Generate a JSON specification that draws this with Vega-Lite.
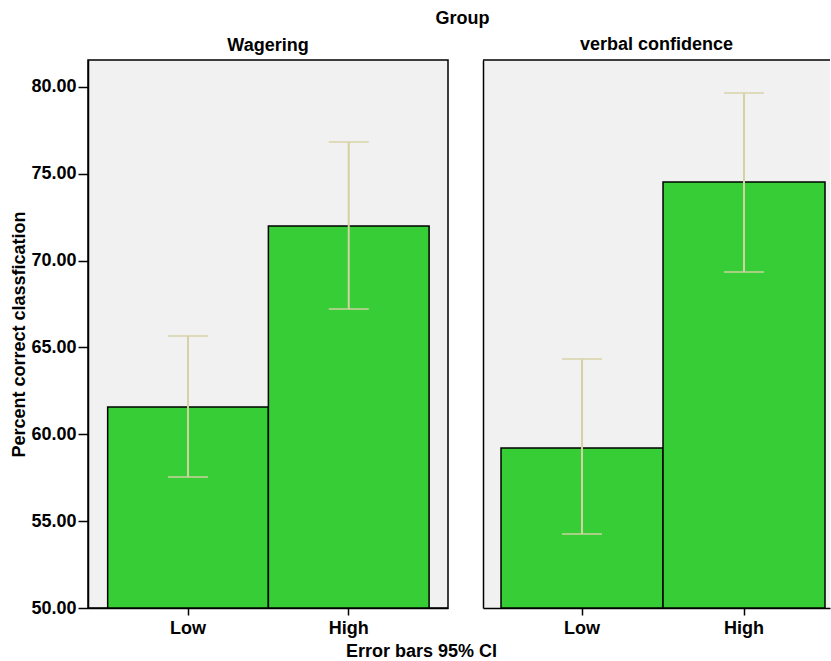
{
  "$schema": "https://vega.github.io/schema/vega-lite/v6.json",
  "padding": {"left": 10, "top": 10, "right": 0, "bottom": 2},
  "bounds": "flush",
  "spacing": 35,
  "title": {"text": "Group", "anchor": "middle", "dx": 42, "offset": 8},
  "data": {"values": [
    {"group": "Wagering", "level": "Low", "mean": 61.57, "lo": 57.54, "hi": 65.66},
    {"group": "Wagering", "level": "High", "mean": 71.99, "lo": 67.21, "hi": 76.83},
    {"group": "verbal confidence", "level": "Low", "mean": 59.21, "lo": 54.26, "hi": 64.33},
    {"group": "verbal confidence", "level": "High", "mean": 74.53, "lo": 69.34, "hi": 79.65}
  ]},
  "hconcat": [
    {
      "width": 360,
      "height": 548,
      "title": {"text": "Wagering"},
      "transform": [{"filter": "datum.group === 'Wagering'"}],
      "encoding": {
        "x": {"field": "level", "type": "nominal", "sort": ["Low", "High"],
          "scale": {"paddingInner": 0, "paddingOuter": 0.12, "align": 0.51},
          "axis": {"title": "Error bars 95% CI", "titleX": 333, "titleY": 34, "titleAlign": "center", "titleBaseline": "top"}}
      },
      "layer": [
        {
          "mark": {"type": "bar", "fill": "#36cd36", "stroke": "black", "strokeWidth": 1.5},
          "encoding": {
            "y": {"field": "mean", "type": "quantitative",
              "scale": {"domain": [50, 81.55], "nice": false, "zero": false},
              "axis": {"title": "Percent correct classfication", "values": [50, 55, 60, 65, 70, 75, 80], "format": ".2f"}},
            "y2": {"datum": 50}
          }
        },
        {
          "mark": {"type": "rule", "color": "#d6d1a4", "strokeWidth": 2},
          "encoding": {"y": {"field": "lo", "type": "quantitative", "title": "Percent correct classfication"}, "y2": {"field": "hi"}}
        },
        {
          "mark": {"type": "tick", "color": "#d6d1a4", "size": 40, "thickness": 2},
          "encoding": {"y": {"field": "lo", "type": "quantitative", "title": "Percent correct classfication"}}
        },
        {
          "mark": {"type": "tick", "color": "#d6d1a4", "size": 40, "thickness": 2},
          "encoding": {"y": {"field": "hi", "type": "quantitative", "title": "Percent correct classfication"}}
        }
      ]
    },
    {
      "width": 347,
      "height": 548,
      "view": {"stroke": null},
      "title": {"text": "verbal confidence"},
      "transform": [{"filter": "datum.group === 'verbal confidence'"}],
      "layer": [
        {
          "mark": {"type": "bar", "fill": "#36cd36", "stroke": "black", "strokeWidth": 1.5},
          "encoding": {
            "x": {"field": "level", "type": "nominal", "sort": ["Low", "High"],
              "scale": {"paddingInner": 0, "paddingOuter": 0.071, "align": 0.783},
              "axis": {"title": null}},
            "y": {"field": "mean", "type": "quantitative",
              "scale": {"domain": [50, 81.55], "nice": false, "zero": false},
              "axis": {"title": null, "labels": false, "ticks": false, "domain": true, "values": [50, 55, 60, 65, 70, 75, 80]}},
            "y2": {"datum": 50}
          }
        },
        {
          "data": {"values": [{"top": 81.55}]},
          "mark": {"type": "rule", "color": "black", "strokeWidth": 1.5},
          "encoding": {"y": {"field": "top", "type": "quantitative", "title": null}}
        },
        {
          "mark": {"type": "rule", "color": "#d6d1a4", "strokeWidth": 2},
          "encoding": {
            "x": {"field": "level", "type": "nominal", "sort": ["Low", "High"], "title": null},
            "y": {"field": "lo", "type": "quantitative", "title": null}, "y2": {"field": "hi"}}
        },
        {
          "mark": {"type": "tick", "color": "#d6d1a4", "size": 40, "thickness": 2},
          "encoding": {
            "x": {"field": "level", "type": "nominal", "sort": ["Low", "High"], "title": null},
            "y": {"field": "lo", "type": "quantitative", "title": null}}
        },
        {
          "mark": {"type": "tick", "color": "#d6d1a4", "size": 40, "thickness": 2},
          "encoding": {
            "x": {"field": "level", "type": "nominal", "sort": ["Low", "High"], "title": null},
            "y": {"field": "hi", "type": "quantitative", "title": null}}
        }
      ]
    }
  ],
  "config": {
    "font": "Liberation Sans",
    "background": "white",
    "view": {"fill": "#f1f1f1", "stroke": "black", "strokeWidth": 1.5},
    "axis": {
      "labelFont": "Liberation Sans", "labelFontSize": 18, "labelFontWeight": "bold", "labelColor": "black",
      "titleFont": "Liberation Sans", "titleFontSize": 18, "titleFontWeight": "bold", "titleColor": "black",
      "domainColor": "black", "domainWidth": 1.5, "tickColor": "black", "tickWidth": 1.5, "grid": false
    },
    "axisX": {"labelAngle": 0, "tickSize": 7, "labelPadding": 4},
    "axisY": {"tickSize": 10, "labelPadding": 2, "titlePadding": 2},
    "title": {"font": "Liberation Sans", "fontSize": 18, "fontWeight": "bold", "color": "black", "offset": 5}
  }
}
